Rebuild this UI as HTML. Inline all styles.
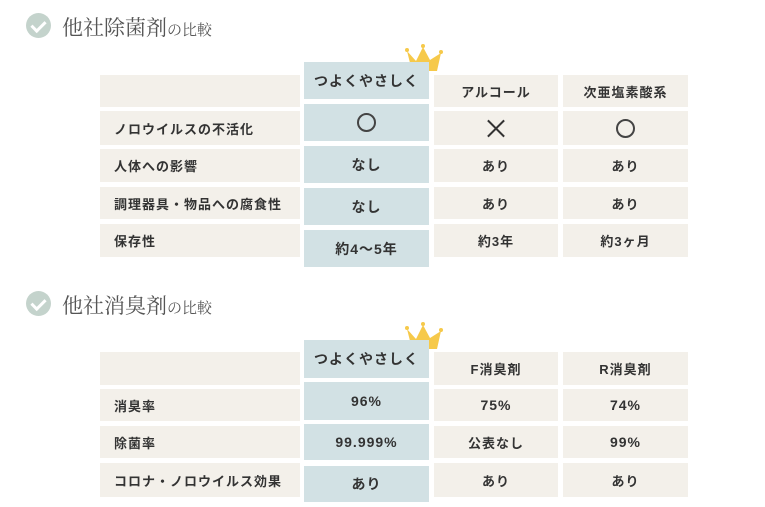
<!DOCTYPE html>
<html><head><meta charset="utf-8"><style>
body{margin:0;width:765px;height:507px;background:#fff;position:relative;overflow:hidden;font-family:"Liberation Sans","Noto Sans CJK JP",sans-serif;color:#333}
.c{position:absolute;display:flex;align-items:center;font-size:13px;font-weight:bold;letter-spacing:1px}
.l{background:#f3f0ea;left:100px;width:200px;padding-left:14px;box-sizing:border-box}
.h{background:#d2e1e4;left:304px;width:125px;justify-content:center;font-size:14px}
.a{background:#f3f0ea;left:434px;width:124px;justify-content:center}
.b{background:#f3f0ea;left:563px;width:125px;justify-content:center}
.t{position:absolute;left:62px;font-family:"Liberation Serif","Noto Serif CJK SC",serif;font-size:21px;color:#555}
.t small{font-size:15px}
.ic{position:absolute;left:26px;width:25px;height:25px;border-radius:50%;background:#c4d3cc}
.ic:after{content:"";position:absolute;left:8px;top:5px;width:6px;height:11px;border:solid #fff;border-width:0 3px 3px 0;transform:rotate(45deg)}
.o{width:15px;height:15px;border:2px solid #444;border-radius:50%}
.x{position:relative;width:18px;height:18px}
.x:before,.x:after{content:"";position:absolute;left:8px;top:-2px;width:2px;height:23px;background:#333;transform:rotate(45deg)}
.x:after{transform:rotate(-45deg)}
.n{font-size:14px}
</style></head><body>
<div class="ic" style="top:13px"></div><div class="t" style="top:12px">他社除菌剤<small>の比較</small></div>
<svg style="position:absolute;left:404px;top:43px" width="40" height="30"><polygon points="3,8 12,18 19,4 26,17 37,10 33,28 8,28" fill="#f6c94a"/><circle cx="3" cy="7" r="2" fill="#f6c94a"/><circle cx="19" cy="3" r="2" fill="#f6c94a"/><circle cx="37" cy="9" r="2" fill="#f6c94a"/></svg>
<div class="c l" style="top:75px;height:32px"></div>
<div class="c h" style="top:62px;height:37px">つよくやさしく</div>
<div class="c a" style="top:75px;height:32px">アルコール</div>
<div class="c b" style="top:75px;height:32px">次亜塩素酸系</div>
<div class="c l" style="top:111px;height:34px">ノロウイルスの不活化</div>
<div class="c h" style="top:104px;height:37px"><div class="o"></div></div>
<div class="c a" style="top:111px;height:34px"><div class="x"></div></div>
<div class="c b" style="top:111px;height:34px"><div class="o"></div></div>
<div class="c l" style="top:149px;height:33px">人体への影響</div>
<div class="c h" style="top:146px;height:37px">なし</div>
<div class="c a" style="top:149px;height:33px">あり</div>
<div class="c b" style="top:149px;height:33px">あり</div>
<div class="c l" style="top:187px;height:32px">調理器具・物品への腐食性</div>
<div class="c h" style="top:188px;height:37px">なし</div>
<div class="c a" style="top:187px;height:32px">あり</div>
<div class="c b" style="top:187px;height:32px">あり</div>
<div class="c l" style="top:224px;height:33px">保存性</div>
<div class="c h" style="top:230px;height:37px">約4～5年</div>
<div class="c a" style="top:224px;height:33px">約3年</div>
<div class="c b" style="top:224px;height:33px">約3ヶ月</div>

<div class="ic" style="top:291px"></div><div class="t" style="top:290px">他社消臭剤<small>の比較</small></div>
<svg style="position:absolute;left:404px;top:321px" width="40" height="30"><polygon points="3,8 12,18 19,4 26,17 37,10 33,28 8,28" fill="#f6c94a"/><circle cx="3" cy="7" r="2" fill="#f6c94a"/><circle cx="19" cy="3" r="2" fill="#f6c94a"/><circle cx="37" cy="9" r="2" fill="#f6c94a"/></svg>
<div class="c l" style="top:352px;height:33px"></div>
<div class="c h" style="top:340px;height:38px">つよくやさしく</div>
<div class="c a" style="top:352px;height:33px">F消臭剤</div>
<div class="c b" style="top:352px;height:33px">R消臭剤</div>
<div class="c l" style="top:389px;height:32px">消臭率</div>
<div class="c h n" style="top:382px;height:38px">96%</div>
<div class="c a n" style="top:389px;height:32px">75%</div>
<div class="c b n" style="top:389px;height:32px">74%</div>
<div class="c l" style="top:426px;height:32px">除菌率</div>
<div class="c h n" style="top:424px;height:36px">99.999%</div>
<div class="c a" style="top:426px;height:32px">公表なし</div>
<div class="c b n" style="top:426px;height:32px">99%</div>
<div class="c l" style="top:463px;height:34px">コロナ・ノロウイルス効果</div>
<div class="c h" style="top:466px;height:36px">あり</div>
<div class="c a" style="top:463px;height:34px">あり</div>
<div class="c b" style="top:463px;height:34px">あり</div>
</body></html>
